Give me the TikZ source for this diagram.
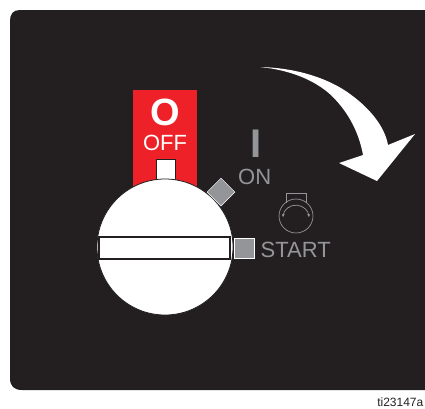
\documentclass[tikz,border=0pt]{standalone}
\usepackage{fontspec}
\setmainfont{Liberation Sans}
\usepackage{xcolor}
\usetikzlibrary{arrows.meta, shapes.geometric}
\definecolor{panelblack}{HTML}{231F20}
\definecolor{offred}{HTML}{ED2127}
\definecolor{markgray}{HTML}{939598}
\tikzset{
  %% Lettering on the panel
  lbl/.style={
    inner sep=0pt, anchor=base west, text=#1,
    font=\fontsize{22}{22}\selectfont
  },
  lbl/.default=markgray,
  %% Position marks round the knob
  mark box/.style={
    rectangle, draw=white, fill=markgray,
    line width=0.5pt, inner sep=0pt
  },
  %% Key symbol
  keyline/.style={draw=markgray, line width=0.7pt},
}
\begin{document}
\begin{tikzpicture}[x=1pt, y=-1pt]
  \useasboundingbox (0,0) rectangle (425,408);
  %% Panel
  \fill[panelblack] (425,10) -- (20,10)
    .. controls (13,10) and (10,14) .. (10,21) -- (10,378)
    .. controls (10,386) and (14,390) .. (22,390) -- (425,390) -- cycle;
  %% Off field
  \node[rectangle, fill=offred, minimum width=64pt, minimum height=96pt,
    inner sep=0pt] (offfield) at (165,138) {};
  \node[lbl=white, anchor=base, font=\fontsize{38}{38}\bfseries\selectfont]
    (offsign) at (165.5,125) {O};
  \node[lbl=white, anchor=base] (offtext) at (165,150) {OFF};
  \node[rectangle, draw=panelblack, fill=white, line width=0.7pt,
    minimum width=19pt, minimum height=24pt, inner sep=0pt]
    (offmark) at (165.5,171) {};
  %% Knob
  \node[circle, draw=panelblack, fill=white, line width=0.8pt,
    minimum size=136pt, inner sep=0pt] (knob) at (165,247) {};
  \node[rectangle, draw=panelblack, fill=white, line width=1.2pt,
    minimum width=131pt, minimum height=22pt, inner sep=0pt]
    (slot) at (164.5,248) {};
  %% On position
  \node[mark box, diamond, minimum size=28pt] (onmark) at (221,192) {};
  \node[lbl, anchor=base, font=\fontsize{40}{40}\bfseries\selectfont]
    (onsign) at (256.5,157) {I};
  \node[lbl] (ontext) at (238,184) {ON};
  %% Start position
  \node[mark box, minimum width=20pt, minimum height=20pt] (startmark) at (244,248) {};
  \node[lbl] (starttext) at (260.5,257.5) {START};
  \node[circle, keyline, minimum size=34pt, inner sep=0pt] (keyring) at (296,216) {};
  \draw[keyline] (286,202.5) -- (286,193) -- (306,193) -- (306,202.5);
  \draw[keyline, {Stealth[length=3pt,width=3pt]}-{Stealth[length=3pt,width=3pt]}]
    (283,217) arc[start angle=185, end angle=355, radius=13];
  %% Turn arrow
  \fill[white] (260,67)
    .. controls (300,68) and (331,80) .. (350,94)
    .. controls (372,110) and (385,128) .. (388,145)
    -- (415,134) -- (377,181) -- (339,163) -- (363,155)
    .. controls (359,133) and (349,113) .. (332,96)
    .. controls (315,80) and (290,70) .. (260,67) -- cycle;
  %% Drawing number
  \node[lbl=panelblack, anchor=base east, font=\fontsize{12}{12}\selectfont]
    (drawnum) at (423.5,406.5) {ti23147a};
\end{tikzpicture}
\end{document}
